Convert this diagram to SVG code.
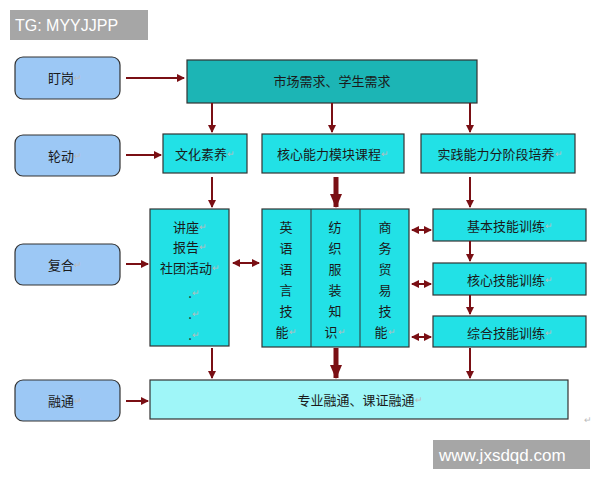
<svg xmlns="http://www.w3.org/2000/svg" width="600" height="480" viewBox="0 0 600 480">
<defs>
<marker id="ah" markerWidth="8" markerHeight="8" refX="7" refY="4" orient="auto-start-reverse" markerUnits="userSpaceOnUse"><path d="M0,0 L8,4 L0,8 z" fill="#7a0f14"/></marker>
<marker id="ahb" markerWidth="14" markerHeight="12" refX="13" refY="6" orient="auto" markerUnits="userSpaceOnUse"><path d="M0,0 L14,6 L0,12 z" fill="#7a0f14"/></marker>
<style>
text{font-family:"Noto Sans CJK SC","Liberation Sans",sans-serif;font-size:13px;fill:#1a1a1a;text-anchor:middle;dominant-baseline:central}
.side{fill:#9cc8f5;stroke:#333;stroke-width:1.2}
.box{fill:#22e1e6;stroke:#333;stroke-width:1.2}
.lt{fill:#9ff6f8;stroke:#333;stroke-width:1.2}
.c{stroke:#7a0f14;stroke-width:2;fill:none;marker-end:url(#ah)}
.d{stroke:#7a0f14;stroke-width:2;fill:none;marker-end:url(#ah);marker-start:url(#ah)}
.t{stroke:#7a0f14;stroke-width:5;fill:none;marker-end:url(#ahb)}
.r{fill:#bbb;font-size:9px}
.wm{font-family:"Liberation Sans",sans-serif;fill:#fff;font-size:16px;text-anchor:start}
</style>
</defs>
<rect width="600" height="480" fill="#fff"/>
<g id="wm1"><rect x="10" y="10" width="138" height="30" fill="#a6a6a6"/><text class="wm" x="15" y="25">TG: MYYJJPP</text></g>
<g id="wm2"><rect x="433" y="440" width="157" height="29" fill="#a6a6a6"/><text class="wm" x="439" y="455" style="font-size:17px">www.jxsdqd.com</text></g>
<g id="n-dinggang"><rect class="side" x="15" y="57" width="105" height="42" rx="8"/><text x="65" y="77">盯岗<tspan class="r">↵</tspan></text></g>
<g id="n-lundong"><rect class="side" x="15" y="135" width="105" height="41" rx="8"/><text x="65" y="155">轮动<tspan class="r">↵</tspan></text></g>
<g id="n-fuhe"><rect class="side" x="15" y="244" width="105" height="41" rx="8"/><text x="65" y="264">复合<tspan class="r">↵</tspan></text></g>
<g id="n-rongtong"><rect class="side" x="15" y="380" width="105" height="41" rx="8"/><text x="65" y="400">融通<tspan class="r">↵</tspan></text></g>
<g id="n-top"><rect x="187" y="60" width="290" height="43" fill="#1cb5b5" stroke="#333" stroke-width="1.2"/><text x="332" y="80">市场需求、学生需求</text></g>
<g id="n-wenhua"><rect class="box" x="163" y="134" width="84" height="39"/><text x="205" y="153">文化素养<tspan class="r">↵</tspan></text></g>
<g id="n-hexin"><rect class="box" x="262" y="134" width="142" height="39"/><text x="333" y="153">核心能力模块课程<tspan class="r">↵</tspan></text></g>
<g id="n-shijian"><rect class="box" x="421" y="134" width="154" height="39"/><text x="500" y="153">实践能力分阶段培养<tspan class="r">↵</tspan></text></g>
<g id="n-jiangzuo"><rect class="box" x="150" y="209" width="79" height="137"/>
<text x="190" y="226">讲座<tspan class="r">↵</tspan></text><text x="190" y="246">报告<tspan class="r">↵</tspan></text><text x="190" y="267">社团活动<tspan class="r">↵</tspan></text><text x="194" y="292">.<tspan class="r">↵</tspan></text><text x="194" y="313">.<tspan class="r">↵</tspan></text><text x="194" y="334">.<tspan class="r">↵</tspan></text></g>
<g id="n-modules"><rect class="box" x="262" y="209" width="147" height="138"/><line x1="311" y1="209" x2="311" y2="347" stroke="#333"/><line x1="360" y1="209" x2="360" y2="347" stroke="#333"/>
<text x="286" y="226">英</text><text x="286" y="247">语</text><text x="286" y="268">语</text><text x="286" y="289">言</text><text x="286" y="310">技</text><text x="286" y="331">能<tspan class="r">↵</tspan></text>
<text x="335" y="226">纺</text><text x="335" y="247">织</text><text x="335" y="268">服</text><text x="335" y="289">装</text><text x="335" y="310">知</text><text x="335" y="331">识<tspan class="r">↵</tspan></text>
<text x="385" y="226">商</text><text x="385" y="247">务</text><text x="385" y="268">贸</text><text x="385" y="289">易</text><text x="385" y="310">技</text><text x="385" y="331">能<tspan class="r">↵</tspan></text></g>
<g id="n-jiben"><rect class="box" x="433" y="209" width="153" height="32"/><text x="510" y="225">基本技能训练<tspan class="r">↵</tspan></text></g>
<g id="n-hexinjn"><rect class="box" x="433" y="263" width="153" height="32"/><text x="510" y="279">核心技能训练<tspan class="r">↵</tspan></text></g>
<g id="n-zonghe"><rect class="box" x="433" y="316" width="153" height="31"/><text x="510" y="332">综合技能训练<tspan class="r">↵</tspan></text></g>
<g id="n-bottom"><rect class="lt" x="150" y="380" width="418" height="39"/><text x="360" y="399">专业融通、课证融通<tspan class="r">↵</tspan></text></g>
<text class="r" x="588" y="419">↵</text>
<g id="connectors">
<line class="c" x1="126" y1="78" x2="184" y2="78"/>
<line class="c" x1="126" y1="155" x2="161" y2="155"/>
<line class="c" x1="126" y1="264" x2="148" y2="264"/>
<line class="c" x1="126" y1="401" x2="148" y2="401"/>
<line class="c" x1="212" y1="103" x2="212" y2="132"/>
<line class="c" x1="332" y1="103" x2="332" y2="132"/>
<line class="c" x1="470" y1="103" x2="470" y2="132"/>
<line class="c" x1="212" y1="177" x2="212" y2="207"/>
<line class="t" x1="336" y1="177" x2="336" y2="207"/>
<line class="c" x1="470" y1="177" x2="470" y2="207"/>
<line class="c" x1="212" y1="348" x2="212" y2="378"/>
<line class="t" x1="336" y1="348" x2="336" y2="378"/>
<line class="c" x1="470" y1="348" x2="470" y2="378"/>
<line class="c" x1="470" y1="241" x2="470" y2="261"/>
<line class="c" x1="470" y1="295" x2="470" y2="314"/>
<line class="d" x1="233" y1="263" x2="259" y2="263"/>
<line class="d" x1="412" y1="230" x2="431" y2="230"/>
<line class="d" x1="412" y1="284" x2="431" y2="284"/>
<line class="d" x1="412" y1="337" x2="431" y2="337"/>
</g>
</svg>
